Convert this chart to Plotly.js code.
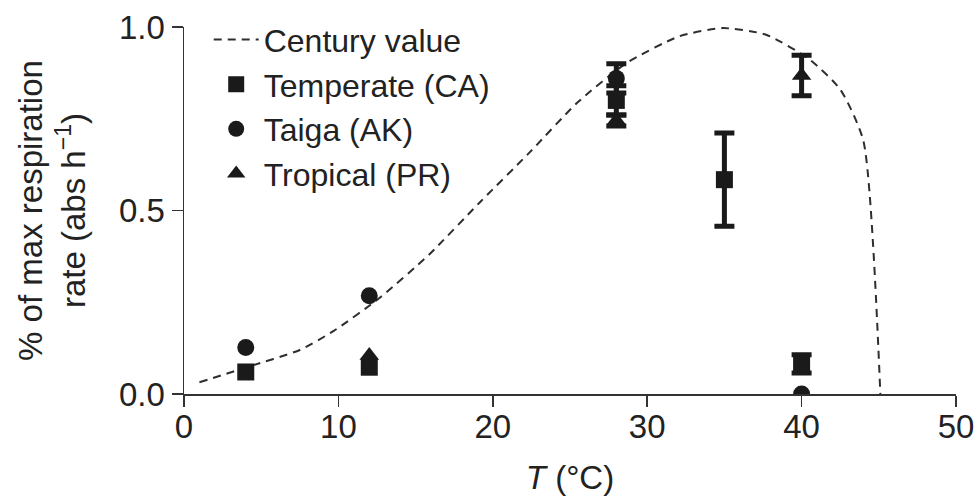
<!DOCTYPE html>
<html>
<head>
<meta charset="utf-8">
<script src="https://cdn.plot.ly/plotly-3.0.1.min.js"></script>
<style>html,body{margin:0;padding:0;background:#fff;}</style>
</head>
<body>
<div id="chart" style="width:977px;height:502px;"></div>
<script>
// Century model curve
const centuryT = [1, 4, 7.5, 9.7, 12.7, 15.9, 19.2, 22.4, 25.5, 28.7, 32.1, 34.9, 37.7, 40.5, 42.5, 44.0, 45.1];
const centuryY = [0.032, 0.072, 0.12, 0.172, 0.263, 0.381, 0.524, 0.659, 0.795, 0.903, 0.975, 0.997, 0.979, 0.912, 0.83, 0.69, 0.0];

// Temperate (CA)
const temperateT = [4, 12, 28, 35, 40];
const temperateY = [0.06, 0.073, 0.80, 0.584, 0.082];
const temperateErr = [NaN, NaN, 0.04, 0.127, 0.025];

// Taiga (AK)
const taigaT = [4, 12, 28, 40];
const taigaY = [0.127, 0.268, 0.86, 0.0];
const taigaErr = [NaN, NaN, 0.04, NaN];

// Tropical (PR)
const tropicalT = [12, 28, 40];
const tropicalY = [0.105, 0.745, 0.868];
const tropicalErr = [NaN, 0.015, 0.055];

const xTicks = [0, 10, 20, 30, 40, 50];
const yTicks = [0, 0.5, 1.0];
const yTickText = ['0.0', '0.5', '1.0'];

const ink = '#1a1a1a';
const FONT = 'Liberation Sans, Arial, Helvetica, sans-serif';

function errBar(arr) {
  return {type: 'data', array: arr, visible: true, color: ink, thickness: 5, width: 10};
}

const traces = [
  {x: centuryT, y: centuryY, mode: 'lines', name: 'Century value',
   line: {color: '#2e2e2e', width: 2, dash: '8px,6px', shape: 'spline', smoothing: 0.6}},
  {x: temperateT, y: temperateY, mode: 'markers', name: 'Temperate (CA)',
   marker: {symbol: 'square', size: 17, color: ink}, error_y: errBar(temperateErr)},
  {x: taigaT, y: taigaY, mode: 'markers', name: 'Taiga (AK)',
   marker: {symbol: 'circle', size: 17, color: ink}, error_y: errBar(taigaErr)},
  {x: tropicalT, y: tropicalY, mode: 'markers', name: 'Tropical (PR)',
   marker: {symbol: 'triangle-up', size: 17, color: ink}, error_y: errBar(tropicalErr)}
];

const layout = {
  width: 977, height: 502,
  margin: {l: 184, r: 21, t: 24, b: 108},
  paper_bgcolor: '#fff', plot_bgcolor: '#fff',
  font: {family: FONT, size: 32, color: '#222'},
  showlegend: true,
  legend: {x: 0.032, y: 1.04, xanchor: 'left', yanchor: 'top', bgcolor: 'rgba(0,0,0,0)',
           itemwidth: 45,
           font: {family: FONT, size: 32, color: '#222'}, tracegroupgap: 0},
  xaxis: {range: [0, 50], tickvals: xTicks, ticks: 'outside', ticklen: 11, tickwidth: 1.5,
          tickcolor: '#333', showline: true, linecolor: '#333', linewidth: 1.5,
          showgrid: false, zeroline: false, ticklabelstandoff: -8,
          tickfont: {family: FONT, size: 33, color: '#222'},
          title: {text: '<i>T</i> (°C)', font: {family: FONT, size: 33, color: '#222'}, standoff: 22}},
  yaxis: {range: [0, 1.0], tickvals: yTicks, ticktext: yTickText, ticks: 'outside', ticklen: 11,
          tickwidth: 1.5, tickcolor: '#333', showline: true, linecolor: '#333', linewidth: 1.5,
          showgrid: false, zeroline: false,
          tickfont: {family: FONT, size: 33, color: '#222'},
          title: {text: '% of max respiration<br>rate (abs h<sup>−1</sup>)',
                  font: {family: FONT, size: 33, color: '#222'}, standoff: 23}}
};

Plotly.newPlot('chart', traces, layout, {displayModeBar: false, staticPlot: true});
</script>
</body>
</html>
